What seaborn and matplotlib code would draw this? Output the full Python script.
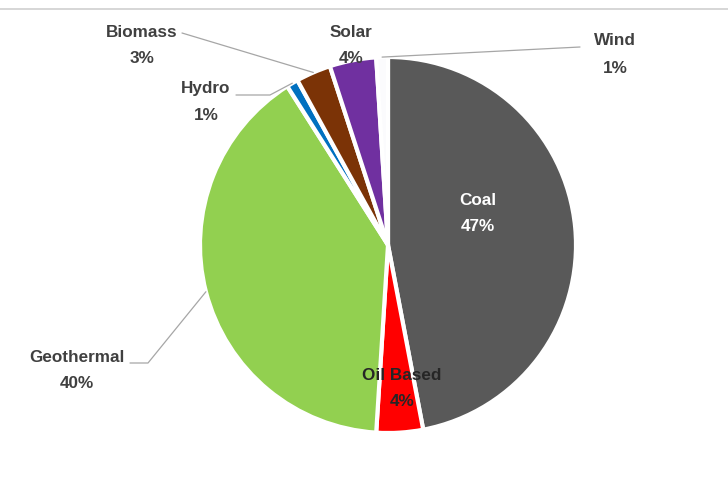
import numpy as np
import matplotlib
matplotlib.use("Agg")
import matplotlib.pyplot as plt
import seaborn as sns

sns.set_theme(style="white")
plt.rcParams["font.family"] = ["Liberation Sans Narrow", "Liberation Sans", "DejaVu Sans"]

# Electricity generation mix by source
sources = ["Coal", "Oil Based", "Geothermal", "Hydro", "Biomass", "Solar", "Wind"]
shares = [47, 4, 40, 1, 3, 4, 1]
colors = ["#595959", "#ff0000", "#92d050", "#0070c0", "#7b3306", "#7030a0", "#fbfbfd"]

W, H = 728, 479
fig = plt.figure(figsize=(W / 100, H / 100), dpi=100)
fig.patch.set_facecolor("white")
ax = fig.add_axes([0, 0, 1, 1])

cx, cy, R = 388, H - 245, 188
wedges, _ = ax.pie(shares, colors=colors, startangle=90, counterclock=False,
                   center=(cx, cy), radius=R,
                   wedgeprops=dict(edgecolor="white", linewidth=3))
ax.set_xlim(0, W)
ax.set_ylim(0, H)
ax.set_aspect("equal")
ax.axis("off")

# thin rule along the top
ax.plot([0, W], [H - 9, H - 9], color="#d0d0d0", lw=1.2, solid_capstyle="butt")

def edge_point(w):
    ang = np.deg2rad((w.theta1 + w.theta2) / 2)
    return cx + R * np.cos(ang), cy + R * np.sin(ang)

label_color = "#404040"
fs = 12.3

def label(name, pct, x, y_name, y_pct, color=label_color):
    ax.text(x, H - y_name, name, ha="center", va="center", fontsize=fs,
            fontweight="bold", color=color)
    ax.text(x, H - y_pct, pct, ha="center", va="center", fontsize=fs,
            fontweight="bold", color=color)

pct = {s: f"{v}%" for s, v in zip(sources, shares)}
label("Coal", pct["Coal"], 478, 200, 226, color="white")
label("Oil Based", pct["Oil Based"], 402, 376, 401, color="#262626")
label("Geothermal", pct["Geothermal"], 77, 358, 384)
label("Hydro", pct["Hydro"], 206, 88, 115)
label("Biomass", pct["Biomass"], 142, 32, 58)
label("Solar", pct["Solar"], 351, 32, 58)
label("Wind", pct["Wind"], 615, 40, 68)

lead = dict(color="#a6a6a6", lw=0.9)
w = dict(zip(sources, wedges))
ex, ey = edge_point(w["Geothermal"])
ax.plot([130, 148, ex], [H - 363, H - 363, ey], **lead)
ex, ey = edge_point(w["Hydro"])
ax.plot([236, 270, ex], [H - 95, H - 95, ey], **lead)
ex, ey = edge_point(w["Biomass"])
ax.plot([182, ex], [H - 33, ey], **lead)
ex, ey = edge_point(w["Wind"])
ax.plot([ex, 580], [ey, H - 47], **lead)

fig.savefig("out.png", dpi=100, facecolor="white")
